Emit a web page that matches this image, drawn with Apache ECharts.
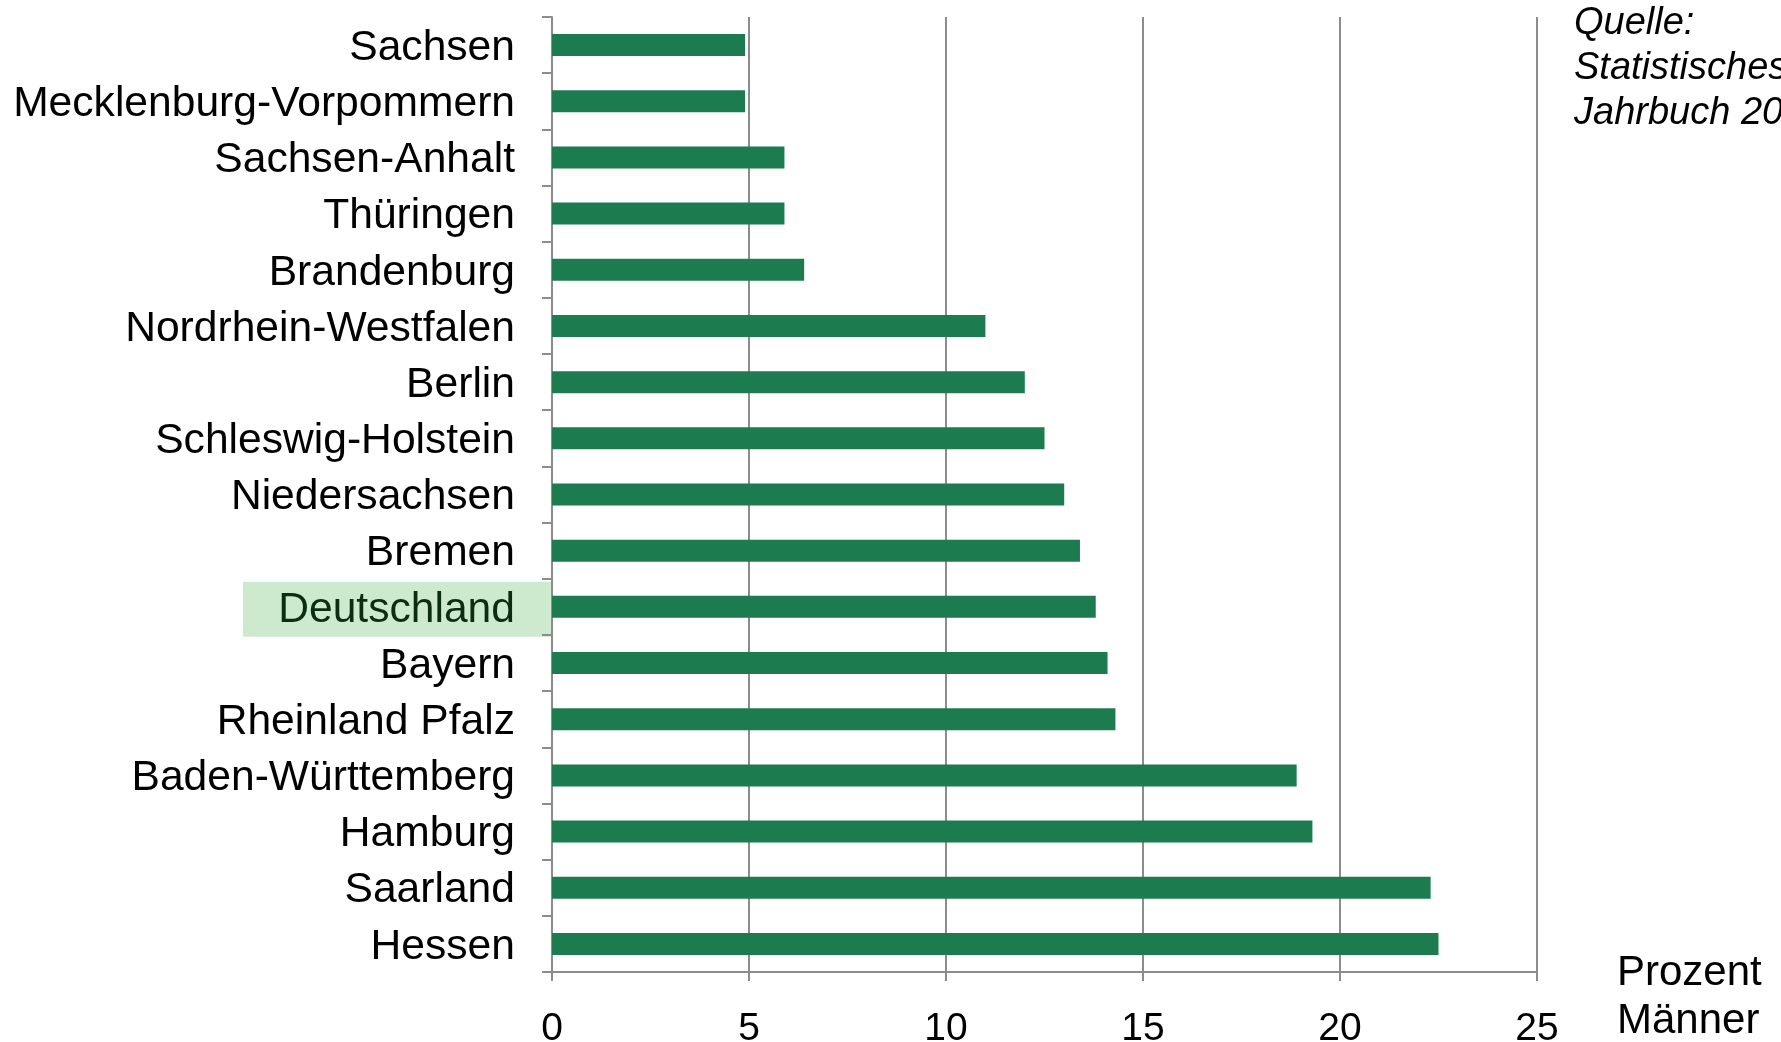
<!DOCTYPE html>
<html>
<head>
<meta charset="utf-8">
<script src="https://cdn.jsdelivr.net/npm/echarts@6/dist/echarts.min.js"></script>
<style>
  html, body { margin: 0; padding: 0; background: #fff; }
  #chart { width: 1781px; height: 1042px; }
</style>
</head>
<body>
<div id="chart"></div>
<script>
// Bundesländer, von oben nach unten
const laender = [
  'Sachsen', 'Mecklenburg-Vorpommern', 'Sachsen-Anhalt', 'Thüringen',
  'Brandenburg', 'Nordrhein-Westfalen', 'Berlin', 'Schleswig-Holstein',
  'Niedersachsen', 'Bremen', 'Deutschland', 'Bayern', 'Rheinland Pfalz',
  'Baden-Württemberg', 'Hamburg', 'Saarland', 'Hessen'
];
// Anteil Männer in Prozent
const prozentMaenner = [
  4.9, 4.9, 5.9, 5.9, 6.4, 11.0, 12.0, 12.5,
  13.0, 13.4, 13.8, 14.1, 14.3, 18.9, 19.3, 22.3, 22.5
];
const xTicks = [0, 5, 10, 15, 20, 25];
const hervorgehoben = 'Deutschland';
const quelleZeilen = ['Quelle:', 'Statistisches', 'Jahrbuch 2009'];
const einheitZeilen = ['Prozent', 'Männer'];

const FONT = '"Liberation Sans", Arial, sans-serif';
const GREY = '#8c8c8c';
const GREEN = '#1c7b4f';

const chart = echarts.init(document.getElementById('chart'), null, { renderer: 'canvas' });

const option = {
  animation: false,
  backgroundColor: '#ffffff',
  grid: {
    left: 552, right: 244, top: 17, bottom: 70,
    containLabel: false, outerBoundsMode: 'none'
  },
  xAxis: {
    type: 'value',
    min: xTicks[0],
    max: xTicks[xTicks.length - 1],
    interval: xTicks[1] - xTicks[0],
    axisLine: { show: true, lineStyle: { color: GREY, width: 2 } },
    axisTick: { show: true, length: 9, lineStyle: { color: GREY, width: 2 } },
    splitLine: { show: true, lineStyle: { color: GREY, width: 2 } },
    axisLabel: { color: '#000', fontFamily: FONT, fontSize: 39, margin: 38 }
  },
  yAxis: {
    type: 'category',
    data: laender,
    inverse: true,
    axisLine: { show: true, lineStyle: { color: GREY, width: 2 } },
    axisTick: { show: true, length: 10, lineStyle: { color: GREY, width: 2 } },
    axisLabel: {
      interval: 0,
      hideOverlap: false,
      color: '#000', fontFamily: FONT, fontSize: 42.6, margin: 37,
      padding: [6, 0, 0, 0],
      formatter: v => v === hervorgehoben ? '{hl|' + v + '}' : v,
      rich: { hl: { color: '#0d2d12', fontFamily: FONT, fontSize: 42.6 } }
    }
  },
  series: [{
    type: 'bar',
    data: prozentMaenner,
    barWidth: 22,
    itemStyle: { color: GREEN },
    z: 3
  }],
  graphic: []
};

chart.setOption(option);

// Hintergrundfeld hinter dem Deutschland-Label und Randtexte
const yMitte = chart.convertToPixel({ yAxisIndex: 0 }, hervorgehoben);
const xNull = chart.convertToPixel({ xAxisIndex: 0 }, 0);
const graphics = [{
  type: 'rect',
  z: -10,
  silent: true,
  shape: { x: xNull - 309, y: yMitte - 25, width: 309, height: 55 },
  style: { fill: '#cdeacf' }
}];
quelleZeilen.forEach((t, i) => {
  graphics.push({
    type: 'text', left: 1574, top: 4 + i * 45, silent: true,
    style: { text: t, fontFamily: FONT, fontSize: 38, fontStyle: 'italic', fill: '#000' }
  });
});
einheitZeilen.forEach((t, i) => {
  graphics.push({
    type: 'text', left: 1617, top: 952 + i * 48, silent: true,
    style: { text: t, fontFamily: FONT, fontSize: 42, fill: '#000' }
  });
});
chart.setOption({ graphic: graphics });
</script>
</body>
</html>
